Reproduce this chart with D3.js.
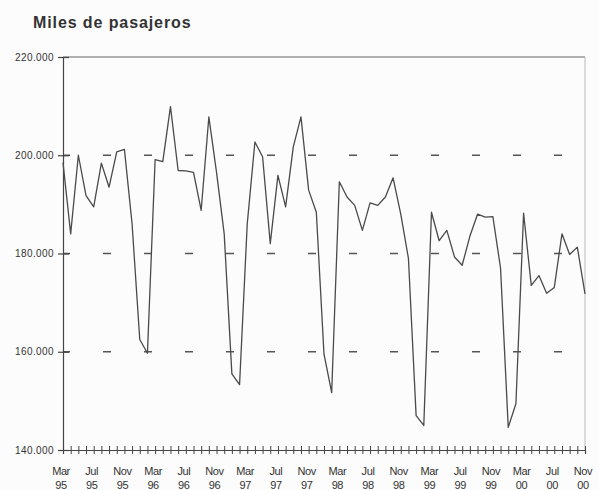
<!DOCTYPE html>
<html>
<head>
<meta charset="utf-8">
<script src="https://cdn.jsdelivr.net/npm/d3@7"></script>
<style>
  body { margin: 0; background: #fcfcfc; }
  svg { display: block; font-family: "Liberation Sans", Arial, sans-serif; }
</style>
</head>
<body>
<div id="chart-area"></div>
<script>
// Pasajeros mensuales (miles), de Mar 95 a Nov 00
const pasajeros = [
  198500, 184000, 200000, 191800, 189500, 198400, 193500, 200700, 201200, 186000, 162500, 159700,
  199100, 198700, 209900, 196900, 196800, 196500, 188800, 207800, 196500, 184000, 155500, 153300,
  186000, 202700, 199700, 182000, 195900, 189500, 201700, 207800, 192900, 188400, 159500, 151700,
  194600, 191500, 189800, 184700, 190300, 189800, 191500, 195400, 188000, 179000, 147000, 145000,
  188400, 182600, 184700, 179300, 177600, 183500, 188000, 187400, 187500, 177000, 144600, 149400,
  188200, 173500, 175500, 171900, 173100, 184000, 179800, 181300, 171800
];

// Etiquetas del eje X (cada 4 meses)
const tickMonths = ["Mar", "Jul", "Nov", "Mar", "Jul", "Nov", "Mar", "Jul", "Nov",
                    "Mar", "Jul", "Nov", "Mar", "Jul", "Nov", "Mar", "Jul", "Nov"];
const tickYears = ["95", "95", "95", "96", "96", "96", "97", "97", "97",
                   "98", "98", "98", "99", "99", "99", "00", "00", "00"];

// Eje Y
const yTicks = [140000, 160000, 180000, 200000, 220000];
const gridTicks = [160000, 180000, 200000];

const width = 599;
const height = 490;

const svg = d3.select("#chart-area")
    .append("svg")
    .attr("width", width)
    .attr("height", height);

const x = d3.scaleLinear()
    .domain([0, pasajeros.length - 1])
    .range([63, 585]);

const y = d3.scaleLinear()
    .domain([140000, 220000])
    .range([450, 57]);

const es = d3.formatLocale({ decimal: ",", thousands: ".", grouping: [3], currency: ["", " €"] });
const fmt = es.format(",");

// Titulo
svg.append("text")
    .attr("x", 33)
    .attr("y", 28)
    .attr("font-size", "16px")
    .attr("font-weight", "bold")
    .attr("letter-spacing", "0.9px")
    .style("fill", "#333")
    .text("Miles de pasajeros");

// Lineas de referencia discontinuas
svg.selectAll(".grid")
    .data(gridTicks)
    .enter()
    .append("line")
    .attr("class", "grid")
    .attr("x1", x(0))
    .attr("x2", x(pasajeros.length - 1))
    .attr("y1", d => y(d))
    .attr("y2", d => y(d))
    .attr("stroke", "#555")
    .attr("stroke-width", 1.3)
    .attr("stroke-dasharray", "8,33")
    .attr("stroke-dashoffset", 1);

// Linea superior (220.000) y borde derecho
svg.append("line")
    .attr("x1", x(0)).attr("x2", x(pasajeros.length - 1))
    .attr("y1", y(220000)).attr("y2", y(220000))
    .attr("stroke", "#666").attr("stroke-width", 1);
svg.append("line")
    .attr("x1", x(pasajeros.length - 1)).attr("x2", x(pasajeros.length - 1))
    .attr("y1", y(220000)).attr("y2", y(140000))
    .attr("stroke", "#bbb").attr("stroke-width", 1);

// Eje Y
const leftAxis = d3.axisLeft(y).tickValues(yTicks).tickFormat(fmt).tickSize(5).tickPadding(4);
const gy = svg.append("g")
    .attr("class", "left axis")
    .attr("transform", `translate(${x(0)}, 0)`)
    .call(leftAxis);
gy.select(".domain").attr("stroke", "#444").attr("stroke-width", 1.2);
gy.selectAll(".tick line").attr("x1", -5).attr("x2", 6).attr("stroke", "#444").attr("stroke-width", 1.2);
gy.selectAll(".tick text")
    .attr("font-size", "10px")
    .attr("letter-spacing", "0.4px")
    .style("fill", "#333");

// Eje X (una marca por mes)
const bottomAxis = d3.axisBottom(x).tickValues(d3.range(pasajeros.length)).tickSize(4).tickFormat("");
const gx = svg.append("g")
    .attr("class", "bottom axis")
    .attr("transform", `translate(0, ${y(140000)})`)
    .call(bottomAxis);
gx.select(".domain").attr("stroke", "#444").attr("stroke-width", 1.2);
gx.selectAll(".tick line").attr("y1", -4).attr("y2", 4).attr("stroke", "#444").attr("stroke-width", 1);

// Etiquetas del eje X
const labels = svg.append("g")
    .selectAll("text")
    .data(tickMonths)
    .enter()
    .append("text")
    .attr("text-anchor", "middle")
    .attr("font-size", "11px")
    .attr("letter-spacing", "-0.4px")
    .style("fill", "#333");
labels.append("tspan")
    .attr("x", (d, i) => x(i * 4) - 2)
    .attr("y", 475)
    .text(d => d);
labels.append("tspan")
    .attr("x", (d, i) => x(i * 4) - 2)
    .attr("y", 489)
    .text((d, i) => tickYears[i]);

// Serie
const line = d3.line()
    .x((d, i) => x(i))
    .y(d => y(d));

svg.append("path")
    .datum(pasajeros)
    .attr("fill", "none")
    .attr("stroke", "#4a4a4a")
    .attr("stroke-width", 1.3)
    .attr("stroke-linejoin", "round")
    .attr("d", line);
</script>
</body>
</html>
